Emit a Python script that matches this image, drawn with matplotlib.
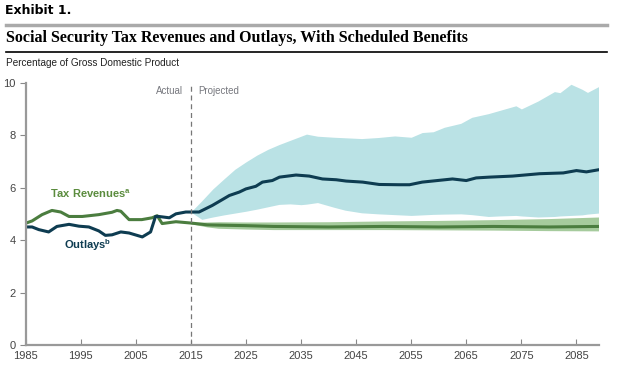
import matplotlib
matplotlib.use('Agg')
import matplotlib.pyplot as plt
from matplotlib.lines import Line2D

# historical (actual) values, percent of GDP
hist_years = [1985, 1986.2, 1988, 1989.8, 1991.4, 1992.9, 1995.3, 1998.3, 2000.7, 2001.6,
              2002.3, 2003.8, 2006.1, 2008, 2008.9, 2009.8, 2012.3, 2015]
revenues_hist = [4.64, 4.73, 4.97, 5.13, 5.07, 4.9, 4.9, 4.97, 5.06, 5.13,
                 5.1, 4.78, 4.78, 4.85, 4.93, 4.63, 4.7, 4.65]

out_years = [1985, 1986.2, 1987.4, 1989.2, 1990.7, 1992.9, 1994.7, 1996.5, 1998.3, 1999.5,
             2000.7, 2002.3, 2003.8, 2006.2, 2007.7, 2008.6, 2009.2, 2011.1, 2012.3, 2014.1, 2015]
outlays_hist = [4.5, 4.5, 4.4, 4.31, 4.52, 4.6, 4.53, 4.5, 4.35, 4.18,
                4.2, 4.31, 4.27, 4.12, 4.31, 4.9, 4.9, 4.85, 5.0, 5.07, 5.07]

# projected outlays (central estimate)
proj_years = [2015, 2016.5, 2018.9, 2020.7, 2022, 2023.8, 2025, 2026.8, 2028, 2029.8, 2031.1,
              2034.1, 2035.3, 2036.5, 2038.9, 2041.4, 2043.2, 2046.2, 2049.2, 2052.8, 2054.7,
              2057, 2062.5, 2065, 2066.8, 2069.2, 2073.4, 2078.3, 2082.6, 2085, 2086.8, 2089]
outlays_proj = [5.07, 5.07, 5.32, 5.54, 5.7, 5.83, 5.95, 6.05, 6.21, 6.27, 6.4,
                6.48, 6.46, 6.44, 6.33, 6.3, 6.25, 6.21, 6.12, 6.11, 6.11,
                6.21, 6.33, 6.27, 6.37, 6.4, 6.44, 6.53, 6.56, 6.65, 6.6, 6.68]

# outlays uncertainty range
band_years = [2015, 2017, 2019, 2021, 2023, 2025, 2027, 2029, 2031, 2033, 2035, 2036, 2038,
              2041, 2043, 2046, 2049, 2052, 2055, 2057, 2059, 2061, 2064, 2066, 2069, 2071,
              2074, 2075, 2078, 2081, 2082, 2084, 2086, 2087, 2089]
outlays_upper = [5.07, 5.5, 5.95, 6.33, 6.7, 6.98, 7.24, 7.46, 7.64, 7.8, 7.96, 8.04, 7.96,
                 7.92, 7.9, 7.87, 7.91, 7.97, 7.92, 8.1, 8.13, 8.3, 8.45, 8.68, 8.82, 8.94,
                 9.12, 9.0, 9.3, 9.66, 9.62, 9.94, 9.75, 9.63, 9.85]
outlays_lower = [5.07, 4.79, 4.88, 4.96, 5.03, 5.1, 5.18, 5.27, 5.36, 5.38, 5.35, 5.37, 5.43,
                 5.25, 5.14, 5.04, 5.0, 4.97, 4.94, 4.96, 4.98, 4.99, 5.0, 4.97, 4.9, 4.92,
                 4.94, 4.92, 4.88, 4.9, 4.92, 4.94, 4.96, 4.99, 5.03]

# projected revenues and range
rev_years = [2015, 2018, 2020, 2025, 2030, 2040, 2050, 2060, 2070, 2080, 2089]
revenues_proj = [4.65, 4.58, 4.57, 4.55, 4.52, 4.5, 4.52, 4.5, 4.52, 4.5, 4.52]
revenues_upper = [4.68, 4.69, 4.7, 4.69, 4.69, 4.7, 4.73, 4.75, 4.78, 4.82, 4.88]
revenues_lower = [4.62, 4.5, 4.45, 4.42, 4.4, 4.4, 4.4, 4.39, 4.38, 4.36, 4.35]

x_ticks = [1985, 1995, 2005, 2015, 2025, 2035, 2045, 2055, 2065, 2075, 2085]
y_ticks = [0, 2, 4, 6, 8, 10]

narrow = ['Liberation Sans', 'DejaVu Sans']
navy = '#0e3c51'
green = '#4b7d3f'
teal_band = '#bae2e5'
green_band = '#a6cb9d'
grey = '#444444'

fig = plt.figure(figsize=(6.2, 3.75), dpi=100)
ax = fig.add_axes([25.5 / 620, 30 / 375, 573 / 620, 262.3 / 375])

ax.fill_between(band_years, outlays_lower, outlays_upper, color=teal_band, lw=0)
ax.fill_between(rev_years, revenues_lower, revenues_upper, color=green_band, lw=0)

ax.plot(hist_years + rev_years[1:], revenues_hist + revenues_proj[1:],
        color=green, lw=2.2, solid_joinstyle='round')
ax.plot(out_years + proj_years[1:], outlays_hist + outlays_proj[1:],
        color=navy, lw=2.2, solid_joinstyle='round')

ax.axvline(2015, color='#777777', lw=0.9, ls=(0, (4, 3)))

ax.set_xlim(1985, 2089)
ax.set_ylim(0, 10)
ax.set_xticks(x_ticks)
ax.set_yticks(y_ticks)
ax.set_xticklabels([str(t) for t in x_ticks], family=narrow, fontsize=8, color=grey)
ax.set_yticklabels([str(t) for t in y_ticks], family=narrow, fontsize=8, color=grey)
ax.tick_params(axis='x', direction='in', length=4, color='#888888', pad=4)
ax.tick_params(axis='y', direction='out', length=4, color='#888888', pad=3)
for s in ['top', 'right']:
    ax.spines[s].set_visible(False)
for s in ['left', 'bottom']:
    ax.spines[s].set_color('#999999')
    ax.spines[s].set_linewidth(1.6)

ax.text(1989.4, 5.75, 'Tax Revenues$^{\\mathregular{a}}$', family=narrow, fontsize=8,
        fontweight='bold', color='#5b8c3e', va='center')
ax.text(1992, 3.8, 'Outlays$^{\\mathregular{b}}$', family=narrow, fontsize=8,
        fontweight='bold', color=navy, va='center')
ax.text(2013.6, 9.7, 'Actual', family=narrow, fontsize=7, color='#77787f',
        ha='right', va='center')
ax.text(2016.4, 9.7, 'Projected', family=narrow, fontsize=7, color='#77787f',
        ha='left', va='center')

# header
fig.text(5 / 620, 1 - 11 / 375, 'Exhibit 1.', fontsize=9, fontweight='heavy',
         family='DejaVu Sans', va='center')
fig.add_artist(Line2D([6 / 620, 607 / 620], [1 - 25 / 375] * 2, color='#aaaaaa', lw=2.5))
fig.text(6 / 620, 1 - 38 / 375, 'Social Security Tax Revenues and Outlays, With Scheduled Benefits',
         family='Liberation Serif', fontweight='bold', fontsize=11.5, va='center')
fig.add_artist(Line2D([6 / 620, 607 / 620], [1 - 52 / 375] * 2, color='black', lw=1.2))
fig.text(6 / 620, 1 - 63 / 375, 'Percentage of Gross Domestic Product', family=narrow,
         fontsize=7.2, color='#222222', va='center')

fig.savefig('out.png', dpi=100)
